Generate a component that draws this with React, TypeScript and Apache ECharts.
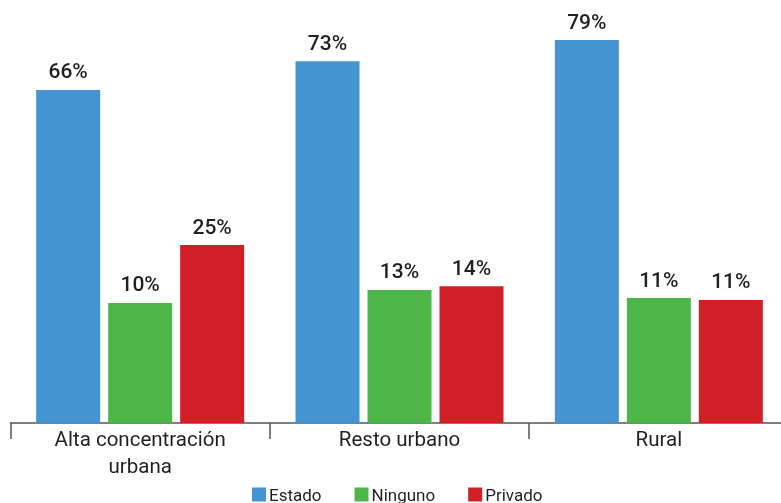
import React, { useEffect, useRef } from "react";
import * as echarts from "echarts";

const categories = ["Alta concentración\nurbana", "Resto urbano", "Rural"];
const seriesNames = ["Estado", "Ninguno", "Privado"];
const estado = [65.9, 73.4, 79.0];
const ninguno = [10.0, 13.4, 11.3];
const privado = [25.2, 14.4, 10.8];
const axisBase = -21.5;
const axisTop = 79;
const colors = ["#4394D0", "#4CB748", "#D11F25"];

export default function App() {
  const ref = useRef<HTMLDivElement>(null);
  useEffect(() => {
    if (!ref.current) return;
    const chart = echarts.init(ref.current, null, { renderer: "svg" });
    const all = [estado, ninguno, privado];
    const font = "Roboto";
    chart.setOption({
      animation: false,
      textStyle: { fontFamily: font },
      grid: { left: 10.5, width: 778, top: 40, bottom: 80 },
      legend: {
        left: 252,
        top: 486,
        padding: 0,
        itemWidth: 14,
        itemHeight: 14,
        itemGap: 33,
        icon: "rect",
        textStyle: { fontSize: 17, lineHeight: 14, color: "#231F20", fontFamily: font, padding: [0, 0, 0, -2] },
        data: seriesNames,
      },
      xAxis: {
        type: "category",
        data: categories,
        axisLine: { lineStyle: { color: "#555", width: 1.5 } },
        axisTick: { show: true, interval: 0, length: 16, lineStyle: { color: "#555", width: 1.5 } },
        axisLabel: { fontSize: 20.5, color: "#231F20", lineHeight: 27, margin: 2, fontFamily: font },
      },
      yAxis: {
        type: "value",
        min: 0,
        max: axisTop - axisBase,
        show: false,
        splitLine: { show: false },
      },
      series: all.map((vals, i) => ({
        name: seriesNames[i],
        type: "bar",
        barWidth: 64,
        barGap: "12.5%",
        itemStyle: { color: colors[i] },
        data: vals.map((v) => v - axisBase),
        label: {
          show: true,
          position: "top",
          distance: 8,
          fontSize: 21,
          fontWeight: 500,
          color: "#231F20",
          fontFamily: font,
          formatter: (p: any) => Math.round(vals[p.dataIndex]) + "%",
        },
      })),
    });
    return () => chart.dispose();
  }, []);
  return (
    <div style={{ position: "fixed", left: 0, top: 0, width: 781, height: 503, overflow: "hidden" }}>
      <div ref={ref} style={{ width: 820, height: 503 }} />
    </div>
  );
}
